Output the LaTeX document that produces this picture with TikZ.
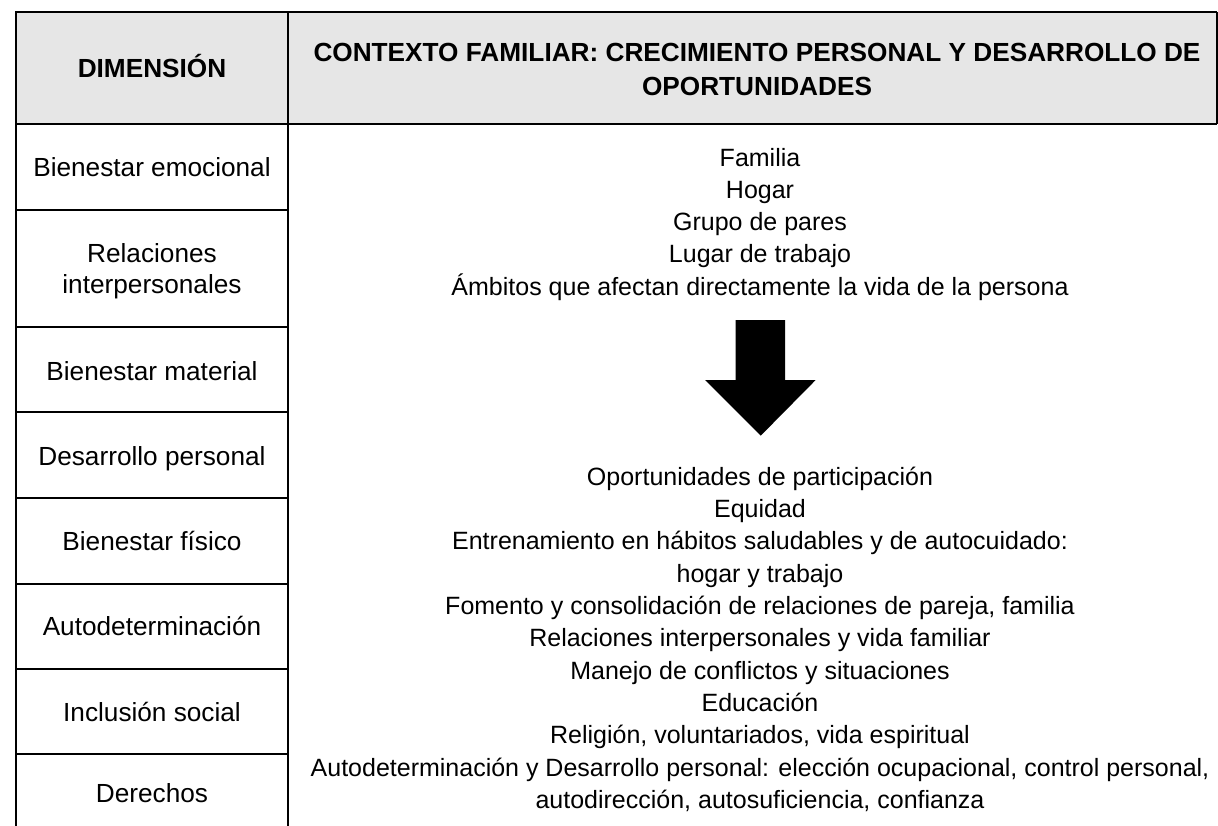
\documentclass[tikz,border=0pt]{standalone}
\usepackage{fontspec}
\setmainfont{Liberation Sans}
\begin{document}
\begin{tikzpicture}[x=1pt,y=-1pt,
  gridline/.style={line width=2pt, draw=black},
  hdrtext/.style={font=\fontsize{26.2}{30}\selectfont\bfseries, anchor=base, inner sep=0pt},
  dimtext/.style={font=\fontsize{26.2}{30}\selectfont, anchor=base, inner sep=0pt},
  ctxtext/.style={font=\fontsize{25}{30}\selectfont, anchor=base, inner sep=0pt}]
\useasboundingbox (0,0) rectangle (1218,826);
% header
\fill[fill={rgb,255:red,230;green,230;blue,230}] (16,12) rectangle (1217,124);
\draw[gridline] (1217,12) -- (16,12) -- (16,830);
\draw[gridline] (1217,12) -- (1217,124);
\draw[gridline] (16,124) -- (1217,124);
\draw[gridline] (288,12) -- (288,830);
\foreach \yy in {210,327,412,498,584,669,754} {\draw[gridline] (16,\yy) -- (288,\yy);}
% header texts
\node[hdrtext] (hdim) at (152,77.5) {DIMENSIÓN};
\node[hdrtext] (hctx1) at (757,61.7) {CONTEXTO FAMILIAR: CRECIMIENTO PERSONAL Y DESARROLLO DE};
\node[hdrtext] (hctx2) at (757,95.5) {OPORTUNIDADES};
% dimension column
\node[dimtext] (d1) at (152,177) {Bienestar emocional};
\node[dimtext] (d2a) at (152,263) {Relaciones};
\node[dimtext] (d2b) at (152,293.5) {interpersonales};
\node[dimtext] (d3) at (152,380) {Bienestar material};
\node[dimtext] (d4) at (152,465) {Desarrollo personal};
\node[dimtext] (d5) at (152,550) {Bienestar físico};
\node[dimtext] (d6) at (152,635) {Autodeterminación};
\node[dimtext] (d7) at (152,721.5) {Inclusión social};
\node[dimtext] (d8) at (152,802) {Derechos};
% upper context block
\node[ctxtext] (u1) at (760,167) {Familia};
\node[ctxtext] (u2) at (760,199) {Hogar};
\node[ctxtext] (u3) at (760,231) {Grupo de pares};
\node[ctxtext] (u4) at (760,263) {Lugar de trabajo};
\node[ctxtext] (u5) at (760,295) {Ámbitos que afectan directamente la vida de la persona};
% arrow
\fill[black] (735.7,320) -- (785,320) -- (785,380) -- (815.7,380) -- (760.7,435.7) -- (705,380) -- (735.7,380) -- cycle;
% lower context block
\node[ctxtext] (l1) at (760,485.3) {Oportunidades de participación};
\node[ctxtext] (l2) at (760,517.6) {Equidad};
\node[ctxtext] (l3) at (760,549.9) {Entrenamiento en hábitos saludables y de autocuidado:};
\node[ctxtext] (l4) at (760,582.2) {hogar y trabajo};
\node[ctxtext] (l5) at (760,614.5) {Fomento y consolidación de relaciones de pareja, familia};
\node[ctxtext] (l6) at (760,646.8) {Relaciones interpersonales y vida familiar};
\node[ctxtext] (l7) at (760,679.1) {Manejo de conflictos y situaciones};
\node[ctxtext] (l8) at (760,711.4) {Educación};
\node[ctxtext] (l9) at (760,743.7) {Religión, voluntariados, vida espiritual};
\node[ctxtext] (l10) at (760,776.0) {Autodeterminación y Desarrollo personal: elección ocupacional, control personal,};
\node[ctxtext] (l11) at (760,808.3) {autodirección, autosuficiencia, confianza};
\end{tikzpicture}
\end{document}
